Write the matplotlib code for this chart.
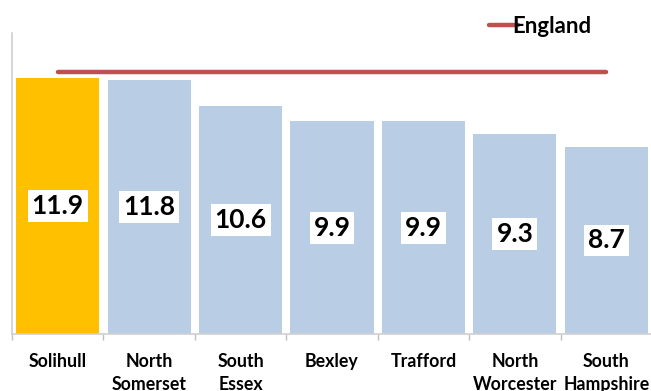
import numpy as np
import matplotlib.pyplot as plt

# Areas and their values, England average as a reference line
areas = ['Solihull', 'North\nSomerset', 'South\nEssex', 'Bexley', 'Trafford',
         'North\nWorcester', 'South\nHampshire']
values = [11.9, 11.8, 10.6, 9.9, 9.9, 9.3, 8.7]
england = 12.2
highlight = 'Solihull'

plt.rcParams['font.family'] = ['Lato', 'DejaVu Sans']

fig = plt.figure(figsize=(6.51, 3.91), dpi=100)
W, H = 651, 391
ax = fig.add_axes([12 / W, (H - 334) / H, 640 / W, (334 - 33) / H])

x = np.arange(len(areas))
colors = ['#FFC000' if a == highlight else '#B9CDE5' for a in areas]
ax.bar(x, values, width=0.91, color=colors, zorder=2)

# England line across the category centres
ax.plot([x[0], x[-1]], [england] * 2, color='#C0504D', linewidth=3.2,
        solid_capstyle='round', zorder=3, label='England')

for xi, v in zip(x, values):
    ax.text(xi, v / 2, f'{v:.1f}', ha='center', va='center', fontsize=19,
            fontweight='bold', color='black', zorder=4,
            bbox=dict(boxstyle='square,pad=0.15', facecolor='white', edgecolor='none'))

ax.set_xlim(-0.5, len(areas) - 0.5)
ax.set_ylim(0, 14)
ax.set_yticks([])
ax.set_xticks(x)
ax.set_xticklabels(areas, fontsize=12.8, fontweight='bold', linespacing=1.4)
ax.tick_params(axis='x', which='major', length=0, pad=14)
ax.set_xticks(np.arange(len(areas) + 1) - 0.5, minor=True)
ax.tick_params(axis='x', which='minor', length=4, color='#BFBFBF', width=1)

for side in ['top', 'right']:
    ax.spines[side].set_visible(False)
for side in ['left', 'bottom']:
    ax.spines[side].set_color('#D0D0D0')
    ax.spines[side].set_linewidth(1.2)

leg = fig.legend(loc='upper left', bbox_to_anchor=(478 / W, 1 - 5 / H), frameon=False,
                 handlelength=1.3, handletextpad=-0.25, borderpad=0,
                 prop={'weight': 'bold', 'size': 16})

fig.savefig('out.png', dpi=100)
